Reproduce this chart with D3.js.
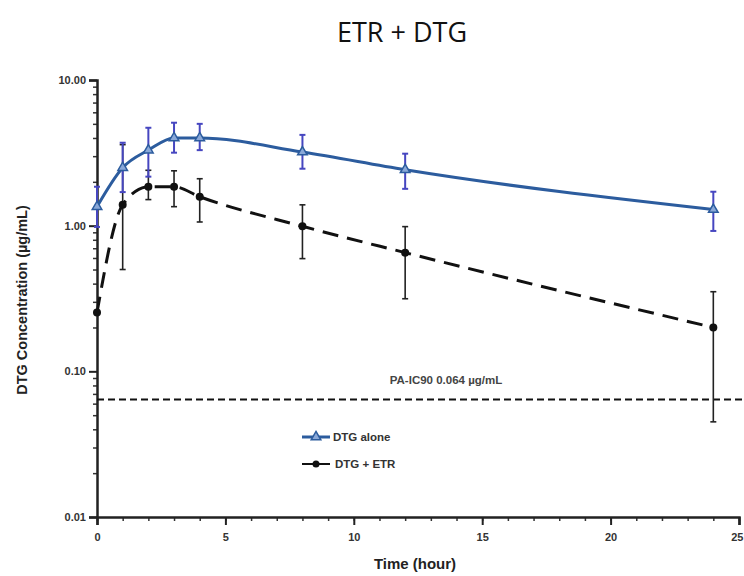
<!DOCTYPE html>
<html><head><meta charset="utf-8">
<script src="https://cdn.jsdelivr.net/npm/d3@7"></script>
<style>body{margin:0;background:#fff;}svg{display:block;}</style>
</head><body>
<svg id="c" width="744" height="576"></svg>
<script>
const times = [0, 1, 2, 3, 4, 8, 12, 24];
const dtgAlone = [1.35, 2.5, 3.3, 4.0, 4.0, 3.2, 2.42, 1.29];
const dtgAloneLo = [0.98, 1.7, 2.17, 3.17, 3.3, 2.46, 1.79, 0.92];
const dtgAloneHi = [1.85, 3.71, 4.7, 5.09, 5.0, 4.2, 3.12, 1.71];
const dtgEtr = [0.253, 1.39, 1.85, 1.85, 1.58, 0.99, 0.653, 0.2];
const dtgEtrLo = [0.253, 0.5, 1.51, 1.35, 1.06, 0.594, 0.315, 0.045];
const dtgEtrHi = [0.253, 3.6, 2.4, 2.38, 2.10, 1.39, 0.985, 0.352];
const yTicks = [0.01, 0.1, 1, 10];
const yTickLabels = ["0.01", "0.10", "1.00", "10.00"];
const xTicks = [0, 5, 10, 15, 20, 25];
const threshold = 0.064;
const thresholdLabel = "PA-IC90 0.064 \u00b5g/mL";
const seriesNames = ["DTG alone", "DTG + ETR"];

const svg = d3.select("#c");
const x = d3.scaleLinear().domain([0, 25]).range([97, 739]);
const y = d3.scaleLog().domain([0.01, 10]).range([517, 80]);
const font = "'Liberation Sans', Arial, sans-serif";

svg.append("text").attr("x", 402).attr("y", 42).attr("text-anchor", "middle")
  .attr("font-family", "'Open Sans', sans-serif").attr("font-size", 27).attr("fill", "#111")
  .text("ETR + DTG");

// y axis
const minorY = [];
for (let e = -2; e < 1; e++) for (let k = 2; k <= 9; k++) minorY.push(k * Math.pow(10, e));
const gy = svg.append("g").attr("transform", "translate(97,0)");
gy.call(d3.axisLeft(y).tickValues(minorY).tickSize(4).tickFormat(""));
gy.selectAll(".tick line").attr("stroke", "#333").attr("stroke-width", 1.5);
gy.selectAll(".domain").remove();
const gy2 = svg.append("g").attr("transform", "translate(97,0)");
gy2.call(d3.axisLeft(y).tickValues(yTicks).tickSize(8).tickFormat((d, i) => yTickLabels[i]));
gy2.selectAll(".domain").attr("stroke", "#222").attr("stroke-width", 2.5);
gy2.selectAll(".tick line").attr("stroke", "#222").attr("stroke-width", 2);
gy2.selectAll(".tick text").attr("font-family", font).attr("font-size", 11).attr("font-weight", "bold").attr("fill", "#333");

// x axis
const gx = svg.append("g").attr("transform", "translate(0,517)");
gx.call(d3.axisBottom(x).tickValues(d3.range(0, 26, 1)).tickSize(4).tickFormat(""));
gx.selectAll(".tick line").attr("stroke", "#333").attr("stroke-width", 1.5);
gx.selectAll(".domain").remove();
const gx2 = svg.append("g").attr("transform", "translate(0,517)");
gx2.call(d3.axisBottom(x).tickValues(xTicks).tickSize(8).tickFormat(d3.format("d")));
gx2.selectAll(".domain").attr("stroke", "#222").attr("stroke-width", 2.5);
gx2.selectAll(".tick line").attr("stroke", "#222").attr("stroke-width", 2);
gx2.selectAll(".tick text").attr("font-family", font).attr("font-size", 11).attr("font-weight", "bold").attr("fill", "#333").attr("dy", "1.2em")
  .attr("text-anchor", d => d === 25 ? "end" : "middle").attr("dx", d => d === 25 ? 4 : 0);

svg.append("text").attr("x", 415).attr("y", 569).attr("text-anchor", "middle")
  .attr("font-family", font).attr("font-size", 15).attr("font-weight", "bold").attr("fill", "#222")
  .text("Time (hour)");
svg.append("text").attr("transform", "translate(27,300) rotate(-90)").attr("text-anchor", "middle")
  .attr("font-family", font).attr("font-size", 14.5).attr("font-weight", "bold").attr("fill", "#222")
  .text("DTG Concentration (\u00b5g/mL)");

// threshold
svg.append("line").attr("x1", x(0)).attr("x2", 744).attr("y1", y(threshold)).attr("y2", y(threshold))
  .attr("stroke", "#111").attr("stroke-width", 2).attr("stroke-dasharray", "7,4");
svg.append("text").attr("x", 446).attr("y", 384).attr("text-anchor", "middle")
  .attr("font-family", font).attr("font-size", 11.5).attr("font-weight", "bold").attr("fill", "#444")
  .text(thresholdLabel);

const line = d3.line().curve(d3.curveMonotoneX).x((d, i) => x(times[i])).y(d => y(d));

// black series
const gb = svg.append("g");
times.forEach((t, i) => {
  if (dtgEtrHi[i] === dtgEtrLo[i]) return;
  gb.append("line").attr("x1", x(t)).attr("x2", x(t)).attr("y1", y(dtgEtrLo[i])).attr("y2", y(dtgEtrHi[i])).attr("stroke", "#222").attr("stroke-width", 1.6);
  [dtgEtrLo[i], dtgEtrHi[i]].forEach(v => gb.append("line").attr("x1", x(t) - 3).attr("x2", x(t) + 3).attr("y1", y(v)).attr("y2", y(v)).attr("stroke", "#222").attr("stroke-width", 1.6));
});
gb.append("path").datum(dtgEtr).attr("d", line).attr("fill", "none").attr("stroke", "#111")
  .attr("stroke-width", 3).attr("stroke-dasharray", "16,9");
gb.selectAll("circle").data(dtgEtr).join("circle").attr("cx", (d, i) => x(times[i])).attr("cy", d => y(d)).attr("r", 4).attr("fill", "#111");

// blue series
const gbl = svg.append("g");
times.forEach((t, i) => {
  gbl.append("line").attr("x1", x(t)).attr("x2", x(t)).attr("y1", y(dtgAloneLo[i])).attr("y2", y(dtgAloneHi[i])).attr("stroke", "#4646c0").attr("stroke-width", 2);
  [dtgAloneLo[i], dtgAloneHi[i]].forEach(v => gbl.append("line").attr("x1", x(t) - 3).attr("x2", x(t) + 3).attr("y1", y(v)).attr("y2", y(v)).attr("stroke", "#4646c0").attr("stroke-width", 2));
});
gbl.append("path").datum(dtgAlone).attr("d", line).attr("fill", "none").attr("stroke", "#2c5c9e").attr("stroke-width", 3);
const tri = d3.symbol().type(d3.symbolTriangle).size(40);
gbl.selectAll("path.m").data(dtgAlone).join("path").attr("class", "m").attr("d", tri)
  .attr("transform", (d, i) => `translate(${x(times[i])},${y(d)})`)
  .attr("fill", "#8aa8d8").attr("stroke", "#2c5c9e").attr("stroke-width", 1.5);

// legend
const lg = svg.append("g");
lg.append("line").attr("x1", 302).attr("x2", 330).attr("y1", 437).attr("y2", 437).attr("stroke", "#2c5c9e").attr("stroke-width", 3);
lg.append("path").attr("d", tri).attr("transform", "translate(316,437)").attr("fill", "#8aa8d8").attr("stroke", "#2c5c9e").attr("stroke-width", 1.5);
lg.append("text").attr("x", 333).attr("y", 441).attr("font-family", font).attr("font-size", 11.5).attr("font-weight", "bold").attr("fill", "#333").text(seriesNames[0]);
lg.append("line").attr("x1", 302).attr("x2", 330).attr("y1", 464).attr("y2", 464).attr("stroke", "#111").attr("stroke-width", 2);
lg.append("circle").attr("cx", 316).attr("cy", 464).attr("r", 3.5).attr("fill", "#111");
lg.append("text").attr("x", 335).attr("y", 468).attr("font-family", font).attr("font-size", 11.5).attr("font-weight", "bold").attr("fill", "#333").text(seriesNames[1]);
</script>
</body></html>
